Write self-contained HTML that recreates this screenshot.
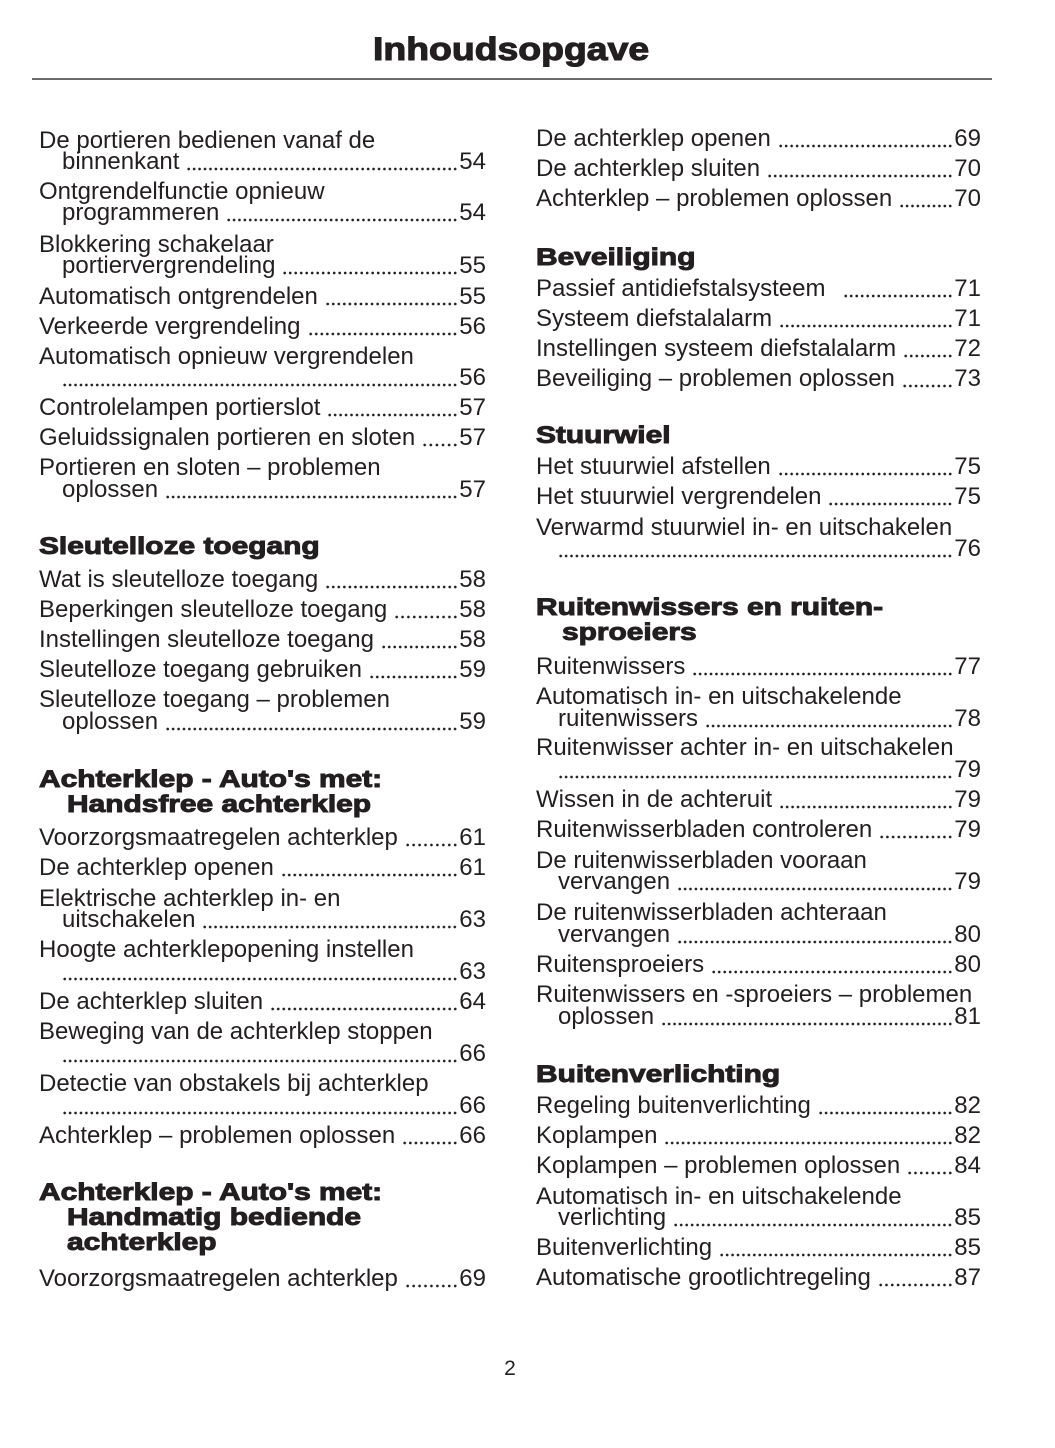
<!DOCTYPE html>
<html>
<head>
<meta charset="utf-8">
<style>
  html,body{margin:0;padding:0;background:#fff;}
  body{width:1055px;height:1448px;position:relative;overflow:hidden;
       font-family:"Liberation Sans",Arial,sans-serif;color:#231f20;}
  .title{position:absolute;left:0;width:1023px;top:33px;text-align:center;
         font-size:32.5px;line-height:32px;font-weight:bold;}
  .title span{display:inline-block;transform:scaleX(1.15);transform-origin:50% 50%;-webkit-text-stroke:1.1px #231f20;}
  .rule{position:absolute;left:32px;width:960px;top:78px;height:2px;background:#6a6a6a;}
  .l{position:absolute;height:24px;line-height:24px;font-size:24px;display:flex;white-space:nowrap;}
  .L{left:39px;width:447px;}
  .R{left:536px;width:445px;}
  .LI{left:62px;width:424px;}
  .RI{left:558px;width:423px;}
  .t{flex:0 0 auto;}
  .d{flex:1 1 0;min-width:0;height:24px;margin-left:7px;margin-right:1px;
     background-image:radial-gradient(circle at 50% 19px,#231f20 0,#231f20 1.1px,rgba(35,31,32,0) 1.6px);
     background-size:5.4px 24px;background-repeat:space no-repeat;background-position:right top;}
  .d.w{margin-left:18px;}
  .d.o{margin-left:0;}
  .n{flex:0 0 auto;}
  .h{position:absolute;font-weight:bold;font-size:24.5px;line-height:24px;white-space:nowrap;
     transform:scaleX(1.22);transform-origin:0 0;-webkit-text-stroke:1px #231f20;}
  .hL{left:39px;} .hLI{left:67px;}
  .hR{left:536px;} .hRI{left:562px;}
  .pg{position:absolute;left:0;width:1020px;text-align:center;top:1358px;font-size:21px;line-height:21px;}
</style>
</head>
<body>
<div class="title"><span>Inhoudsopgave</span></div>
<div class="rule"></div>

<!-- LEFT COLUMN -->
<div class="l L" style="top:129px">De portieren bedienen vanaf de</div>
<div class="l LI" style="top:150.2px"><span class="t">binnenkant</span><span class="d"></span><span class="n">54</span></div>
<div class="l L" style="top:179.5px">Ontgrendelfunctie opnieuw</div>
<div class="l LI" style="top:201.4px"><span class="t">programmeren</span><span class="d"></span><span class="n">54</span></div>
<div class="l L" style="top:233px">Blokkering schakelaar</div>
<div class="l LI" style="top:254px"><span class="t">portiervergrendeling</span><span class="d"></span><span class="n">55</span></div>
<div class="l L" style="top:284.7px"><span class="t">Automatisch ontgrendelen</span><span class="d"></span><span class="n">55</span></div>
<div class="l L" style="top:314.7px"><span class="t">Verkeerde vergrendeling</span><span class="d"></span><span class="n">56</span></div>
<div class="l L" style="top:344.7px">Automatisch opnieuw vergrendelen</div>
<div class="l LI" style="top:366.4px"><span class="d o"></span><span class="n">56</span></div>
<div class="l L" style="top:396.4px"><span class="t">Controlelampen portierslot</span><span class="d"></span><span class="n">57</span></div>
<div class="l L" style="top:426.4px"><span class="t">Geluidssignalen portieren en sloten</span><span class="d"></span><span class="n">57</span></div>
<div class="l L" style="top:456.4px">Portieren en sloten – problemen</div>
<div class="l LI" style="top:478px"><span class="t">oplossen</span><span class="d"></span><span class="n">57</span></div>

<div class="h hL" style="top:534.5px">Sleutelloze toegang</div>
<div class="l L" style="top:568px"><span class="t">Wat is sleutelloze toegang</span><span class="d"></span><span class="n">58</span></div>
<div class="l L" style="top:598px"><span class="t">Beperkingen sleutelloze toegang</span><span class="d"></span><span class="n">58</span></div>
<div class="l L" style="top:628px"><span class="t">Instellingen sleutelloze toegang</span><span class="d"></span><span class="n">58</span></div>
<div class="l L" style="top:658px"><span class="t">Sleutelloze toegang gebruiken</span><span class="d"></span><span class="n">59</span></div>
<div class="l L" style="top:688px">Sleutelloze toegang – problemen</div>
<div class="l LI" style="top:710.4px"><span class="t">oplossen</span><span class="d"></span><span class="n">59</span></div>

<div class="h hL" style="top:767.8px">Achterklep - Auto's met:</div>
<div class="h hLI" style="top:792.8px">Handsfree achterklep</div>
<div class="l L" style="top:826.4px"><span class="t">Voorzorgsmaatregelen achterklep</span><span class="d"></span><span class="n">61</span></div>
<div class="l L" style="top:856.4px"><span class="t">De achterklep openen</span><span class="d"></span><span class="n">61</span></div>
<div class="l L" style="top:887px">Elektrische achterklep in- en</div>
<div class="l LI" style="top:908px"><span class="t">uitschakelen</span><span class="d"></span><span class="n">63</span></div>
<div class="l L" style="top:938px">Hoogte achterklepopening instellen</div>
<div class="l LI" style="top:959.7px"><span class="d o"></span><span class="n">63</span></div>
<div class="l L" style="top:990.4px"><span class="t">De achterklep sluiten</span><span class="d"></span><span class="n">64</span></div>
<div class="l L" style="top:1020.4px">Beweging van de achterklep stoppen</div>
<div class="l LI" style="top:1042.4px"><span class="d o"></span><span class="n">66</span></div>
<div class="l L" style="top:1072.4px">Detectie van obstakels bij achterklep</div>
<div class="l LI" style="top:1093.7px"><span class="d o"></span><span class="n">66</span></div>
<div class="l L" style="top:1123.7px"><span class="t">Achterklep – problemen oplossen</span><span class="d"></span><span class="n">66</span></div>

<div class="h hL" style="top:1181.2px">Achterklep - Auto's met:</div>
<div class="h hLI" style="top:1206.2px">Handmatig bediende</div>
<div class="h hLI" style="top:1231.2px">achterklep</div>
<div class="l L" style="top:1267px"><span class="t">Voorzorgsmaatregelen achterklep</span><span class="d"></span><span class="n">69</span></div>

<!-- RIGHT COLUMN -->
<div class="l R" style="top:127.4px"><span class="t">De achterklep openen</span><span class="d"></span><span class="n">69</span></div>
<div class="l R" style="top:157.4px"><span class="t">De achterklep sluiten</span><span class="d"></span><span class="n">70</span></div>
<div class="l R" style="top:187.4px"><span class="t">Achterklep – problemen oplossen</span><span class="d"></span><span class="n">70</span></div>

<div class="h hR" style="top:246.2px">Beveiliging</div>
<div class="l R" style="top:277.4px"><span class="t">Passief antidiefstalsysteem</span><span class="d w"></span><span class="n">71</span></div>
<div class="l R" style="top:307.4px"><span class="t">Systeem diefstalalarm</span><span class="d"></span><span class="n">71</span></div>
<div class="l R" style="top:337.4px"><span class="t">Instellingen systeem diefstalalarm</span><span class="d"></span><span class="n">72</span></div>
<div class="l R" style="top:367.4px"><span class="t">Beveiliging – problemen oplossen</span><span class="d"></span><span class="n">73</span></div>

<div class="h hR" style="top:423.8px">Stuurwiel</div>
<div class="l R" style="top:455.4px"><span class="t">Het stuurwiel afstellen</span><span class="d"></span><span class="n">75</span></div>
<div class="l R" style="top:485.4px"><span class="t">Het stuurwiel vergrendelen</span><span class="d"></span><span class="n">75</span></div>
<div class="l R" style="top:515.7px">Verwarmd stuurwiel in- en uitschakelen</div>
<div class="l RI" style="top:537.4px"><span class="d o"></span><span class="n">76</span></div>

<div class="h hR" style="top:596.2px">Ruitenwissers en ruiten-</div>
<div class="h hRI" style="top:621.2px">sproeiers</div>
<div class="l R" style="top:654.7px"><span class="t">Ruitenwissers</span><span class="d"></span><span class="n">77</span></div>
<div class="l R" style="top:684.7px">Automatisch in- en uitschakelende</div>
<div class="l RI" style="top:707px"><span class="t">ruitenwissers</span><span class="d"></span><span class="n">78</span></div>
<div class="l R" style="top:736.4px">Ruitenwisser achter in- en uitschakelen</div>
<div class="l RI" style="top:758px"><span class="d o"></span><span class="n">79</span></div>
<div class="l R" style="top:788px"><span class="t">Wissen in de achteruit</span><span class="d"></span><span class="n">79</span></div>
<div class="l R" style="top:818px"><span class="t">Ruitenwisserbladen controleren</span><span class="d"></span><span class="n">79</span></div>
<div class="l R" style="top:849px">De ruitenwisserbladen vooraan</div>
<div class="l RI" style="top:870.4px"><span class="t">vervangen</span><span class="d"></span><span class="n">79</span></div>
<div class="l R" style="top:901.4px">De ruitenwisserbladen achteraan</div>
<div class="l RI" style="top:923px"><span class="t">vervangen</span><span class="d"></span><span class="n">80</span></div>
<div class="l R" style="top:953px"><span class="t">Ruitensproeiers</span><span class="d"></span><span class="n">80</span></div>
<div class="l R" style="top:983px">Ruitenwissers en -sproeiers – problemen</div>
<div class="l RI" style="top:1004.7px"><span class="t">oplossen</span><span class="d"></span><span class="n">81</span></div>

<div class="h hR" style="top:1062.8px">Buitenverlichting</div>
<div class="l R" style="top:1094px"><span class="t">Regeling buitenverlichting</span><span class="d"></span><span class="n">82</span></div>
<div class="l R" style="top:1124px"><span class="t">Koplampen</span><span class="d"></span><span class="n">82</span></div>
<div class="l R" style="top:1154px"><span class="t">Koplampen – problemen oplossen</span><span class="d"></span><span class="n">84</span></div>
<div class="l R" style="top:1184.7px">Automatisch in- en uitschakelende</div>
<div class="l RI" style="top:1206.4px"><span class="t">verlichting</span><span class="d"></span><span class="n">85</span></div>
<div class="l R" style="top:1236.4px"><span class="t">Buitenverlichting</span><span class="d"></span><span class="n">85</span></div>
<div class="l R" style="top:1266.4px"><span class="t">Automatische grootlichtregeling</span><span class="d"></span><span class="n">87</span></div>

<div class="pg">2</div>
</body>
</html>
